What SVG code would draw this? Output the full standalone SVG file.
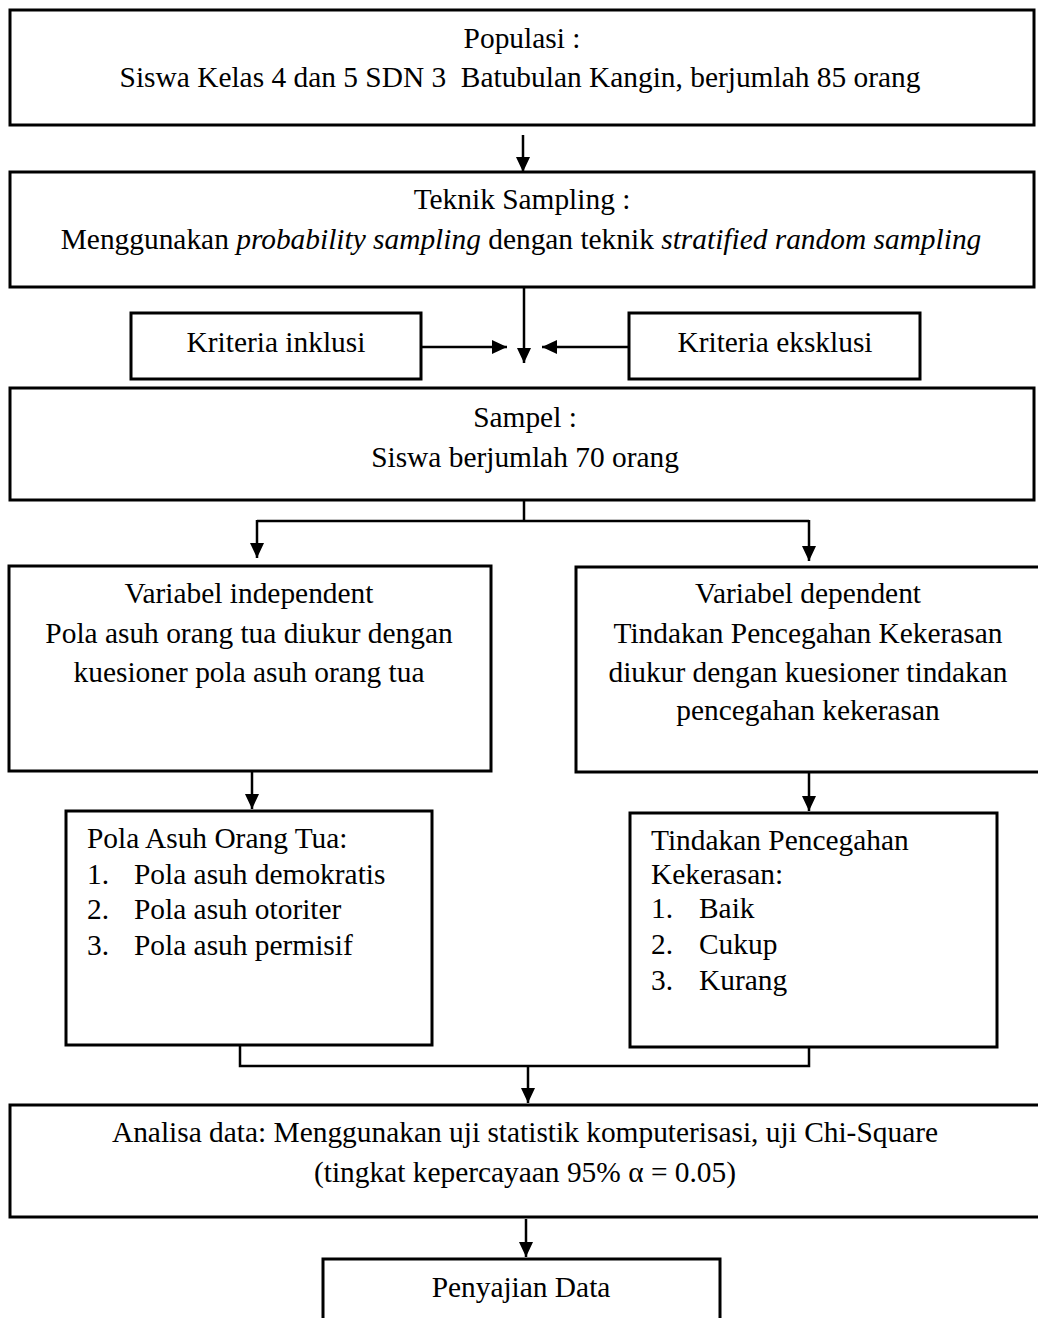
<svg xmlns="http://www.w3.org/2000/svg" width="1038" height="1318" viewBox="0 0 1038 1318">
<style>
.box{fill:#fff;stroke:#000;stroke-width:3}
.ln{fill:none;stroke:#000;stroke-width:2.5}
text{font-family:"Liberation Serif","Times New Roman",serif;font-size:29.4px;fill:#000}
.c{text-anchor:middle}
.i{font-style:italic}
</style>
<defs>
<marker id="ah" markerUnits="userSpaceOnUse" markerWidth="16" markerHeight="15" refX="15" refY="7" orient="auto">
<path d="M0,0 L15,7 L0,14 z" fill="#000"/>
</marker>
</defs>
<rect width="1038" height="1318" fill="#fff"/>
<g id="connectors">
<line class="ln" x1="523" y1="135" x2="523" y2="172" marker-end="url(#ah)"/>
<line class="ln" x1="524" y1="287" x2="524" y2="363" marker-end="url(#ah)"/>
<line class="ln" x1="421" y1="347" x2="507" y2="347" marker-end="url(#ah)"/>
<line class="ln" x1="629" y1="347" x2="542" y2="347" marker-end="url(#ah)"/>
<polyline class="ln" points="524,500 524,521"/>
<polyline class="ln" points="257,521 809,521"/>
<line class="ln" x1="257" y1="520" x2="257" y2="558" marker-end="url(#ah)"/>
<line class="ln" x1="809" y1="520" x2="809" y2="561" marker-end="url(#ah)"/>
<line class="ln" x1="252" y1="771" x2="252" y2="809" marker-end="url(#ah)"/>
<line class="ln" x1="809" y1="772" x2="809" y2="811" marker-end="url(#ah)"/>
<polyline class="ln" points="240,1045 240,1066 809,1066 809,1047"/>
<line class="ln" x1="528" y1="1066" x2="528" y2="1103" marker-end="url(#ah)"/>
<line class="ln" x1="526" y1="1219" x2="526" y2="1257" marker-end="url(#ah)"/>
</g>
<g id="populasi">
<rect class="box" x="10" y="10" width="1024" height="115"/>
<text class="c" x="522" y="48">Populasi :</text>
<text class="c" x="520" y="87" xml:space="preserve">Siswa Kelas 4 dan 5 SDN 3  Batubulan Kangin, berjumlah 85 orang</text>
</g>
<g id="teknik-sampling">
<rect class="box" x="10" y="172" width="1024" height="115"/>
<text class="c" x="522" y="209">Teknik Sampling :</text>
<text class="c" x="521" y="249">Menggunakan <tspan class="i">probability sampling</tspan> dengan teknik <tspan class="i">stratified random sampling</tspan></text>
</g>
<g id="kriteria-inklusi">
<rect class="box" x="131" y="313" width="290" height="66"/>
<text class="c" x="276" y="352">Kriteria inklusi</text>
</g>
<g id="kriteria-eksklusi">
<rect class="box" x="629" y="313" width="291" height="66"/>
<text class="c" x="775" y="352">Kriteria eksklusi</text>
</g>
<g id="sampel">
<rect class="box" x="10" y="388" width="1024" height="112"/>
<text class="c" x="525" y="427">Sampel :</text>
<text class="c" x="525" y="467">Siswa berjumlah 70 orang</text>
</g>
<g id="variabel-independent">
<rect class="box" x="9" y="566" width="482" height="205"/>
<text class="c" x="249" y="603">Variabel independent</text>
<text class="c" x="249" y="643">Pola asuh orang tua diukur dengan</text>
<text class="c" x="249" y="682">kuesioner pola asuh orang tua</text>
</g>
<g id="variabel-dependent">
<rect class="box" x="576" y="567" width="470" height="205"/>
<text class="c" x="808" y="603">Variabel dependent</text>
<text class="c" x="808" y="643">Tindakan Pencegahan Kekerasan</text>
<text class="c" x="808" y="682">diukur dengan kuesioner tindakan</text>
<text class="c" x="808" y="720">pencegahan kekerasan</text>
</g>
<g id="pola-asuh">
<rect class="box" x="66" y="811" width="366" height="234"/>
<text x="87" y="848">Pola Asuh Orang Tua:</text>
<text x="87" y="884">1.</text><text x="134" y="884">Pola asuh demokratis</text>
<text x="87" y="919">2.</text><text x="134" y="919">Pola asuh otoriter</text>
<text x="87" y="955">3.</text><text x="134" y="955">Pola asuh permisif</text>
</g>
<g id="tindakan-pencegahan">
<rect class="box" x="630" y="813" width="367" height="234"/>
<text x="651" y="850">Tindakan Pencegahan</text>
<text x="651" y="884">Kekerasan:</text>
<text x="651" y="918">1.</text><text x="699" y="918">Baik</text>
<text x="651" y="954">2.</text><text x="699" y="954">Cukup</text>
<text x="651" y="990">3.</text><text x="699" y="990">Kurang</text>
</g>
<g id="analisa-data">
<rect class="box" x="10" y="1105" width="1036" height="112"/>
<text class="c" x="525" y="1142">Analisa data: Menggunakan uji statistik komputerisasi, uji Chi-Square</text>
<text class="c" x="525" y="1182">(tingkat kepercayaan 95% α = 0.05)</text>
</g>
<g id="penyajian-data">
<rect class="box" x="323" y="1259" width="397" height="70"/>
<text class="c" x="521" y="1297">Penyajian Data</text>
</g>
</svg>
